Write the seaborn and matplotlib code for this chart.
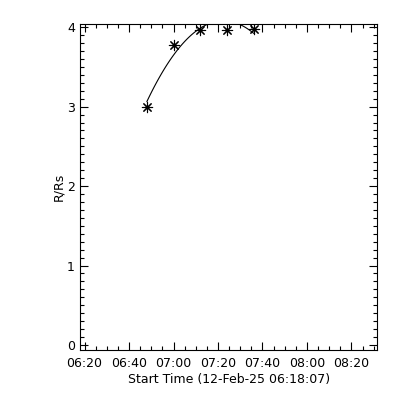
import numpy as np
import pandas as pd
import matplotlib
matplotlib.use("Agg")
import matplotlib.pyplot as plt
import seaborn as sns

# height-time points (minutes after 00:00 UT, R/Rs)
time_min = [408.0, 420.0, 432.0, 444.0, 456.0]
height = [3.0, 3.78, 3.97, 3.97, 3.98]

tick_min = [380, 400, 420, 440, 460, 480, 500]
tick_labels = ["06:20", "06:40", "07:00", "07:20", "07:40", "08:00", "08:20"]
start_min = 6 * 60 + 18 + 7 / 60.0

df = pd.DataFrame({"t": time_min, "r": height})

sns.set_style("ticks")
plt.rcParams["font.family"] = ["DejaVu Sans"]
plt.rcParams["font.size"] = 9
plt.rcParams["text.color"] = "black"
plt.rcParams["axes.labelcolor"] = "black"

fig = plt.figure(figsize=(4, 4), dpi=100)
ax = fig.add_axes([0.201, 0.125, 0.741, 0.815])

# second order fit like the original height-time plot
sns.regplot(data=df, x="t", y="r", order=2, ci=None, ax=ax,
            marker=(8, 2, 0),
            scatter_kws={"s": 55, "color": "black", "linewidths": 0.8, "alpha": 1},
            line_kws={"color": "black", "lw": 0.8})

ax.set_xlim(start_min, 511.4)
ax.set_ylim(-0.063, 4.04)
ax.set_xticks(tick_min)
ax.set_xticklabels(tick_labels)
ax.set_xticks(np.arange(380, 511, 5), minor=True)
ax.set_yticks([0, 1, 2, 3, 4])
ax.set_yticks(np.arange(0, 4.01, 0.1), minor=True)

ax.tick_params(which="both", direction="in", top=True, right=True,
               color="black", width=0.8, labelcolor="black")
ax.tick_params(which="major", length=5.5, pad=5)
ax.tick_params(which="minor", length=2.7)
ax.tick_params(axis="y", pad=4)
for s in ax.spines.values():
    s.set_color("black")
    s.set_linewidth(0.8)

ax.set_xlabel("Start Time (12-Feb-25 06:18:07)", labelpad=2, color="black")
ax.set_ylabel("R/Rs", labelpad=1, color="black")

fig.savefig("out.png", dpi=100, facecolor="white")
